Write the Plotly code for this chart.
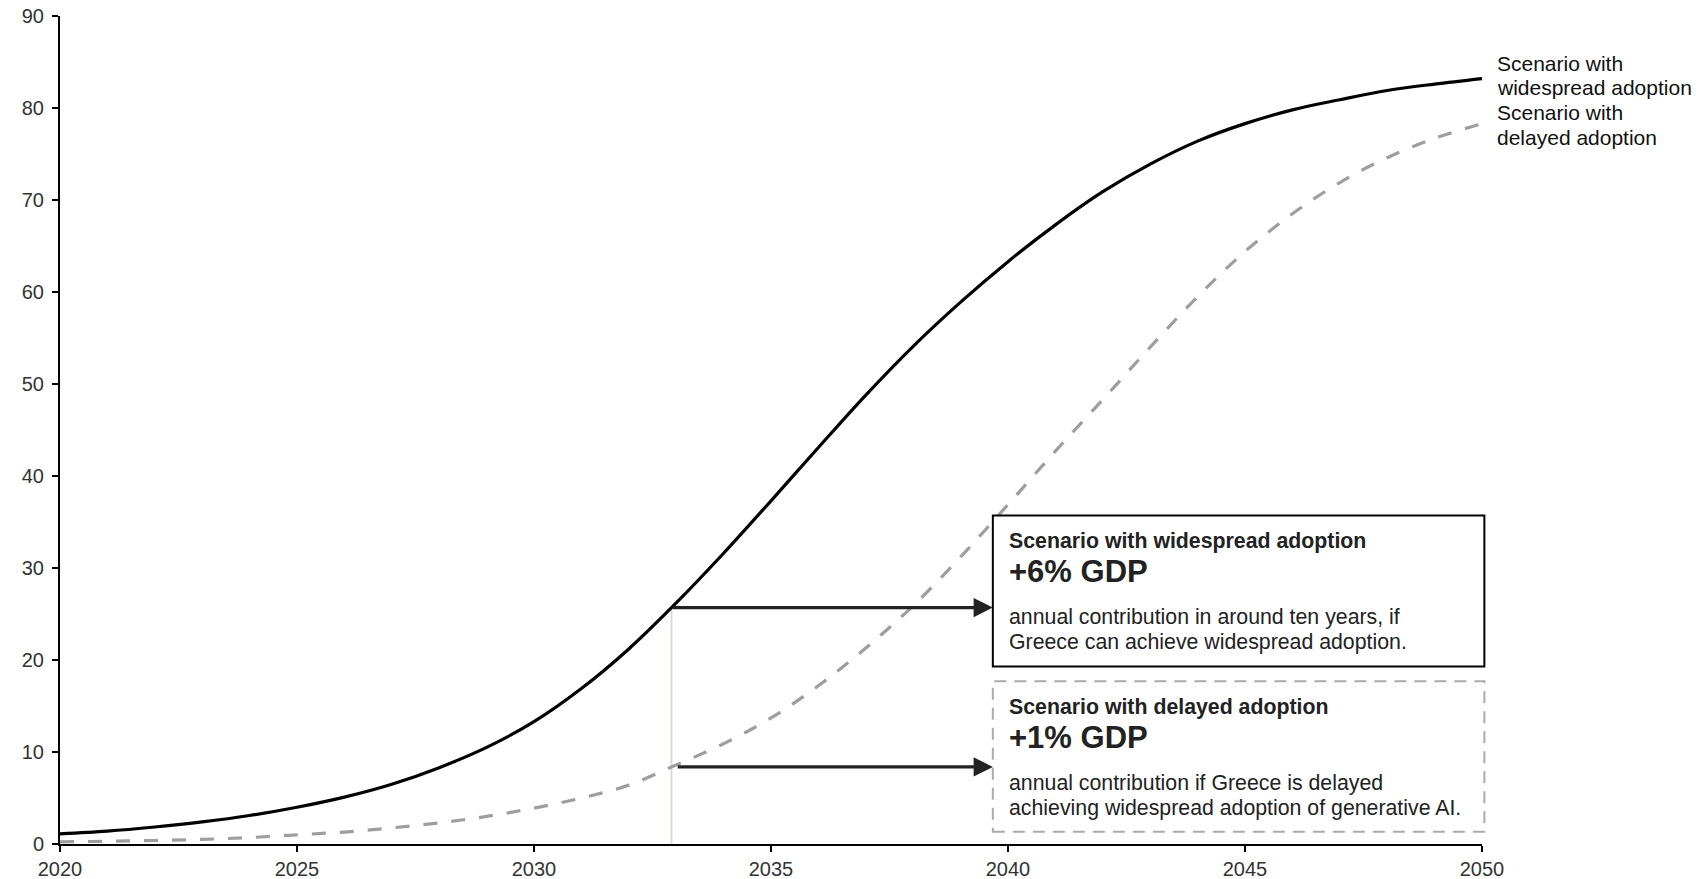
import numpy as np
import plotly.graph_objects as go

# Years on the horizontal axis
years = list(range(2020, 2051))

# Cumulative adoption paths (y-axis units), one value per year
widespread = [1.1, 1.4, 1.85, 2.4, 3.1, 4.0, 5.1, 6.5, 8.3, 10.5,
              13.3, 16.9, 21.2, 26.2, 31.6, 37.3, 43.1, 48.8, 54.1, 58.9,
              63.3, 67.3, 70.9, 73.9, 76.4, 78.3, 79.8, 80.9, 81.9, 82.6,
              83.2]
delayed = [0.24, 0.3, 0.38, 0.5, 0.7, 1.0, 1.3, 1.75, 2.3, 3.0,
           3.9, 5.0, 6.4, 8.6, 10.9, 13.7, 17.2, 21.3, 25.9, 31.2,
           36.9, 42.7, 48.3, 54.0, 59.5, 64.4, 68.5, 71.9, 74.6, 76.7,
           78.3]

x_ticks = [2020, 2025, 2030, 2035, 2040, 2045, 2050]
y_ticks = [0, 10, 20, 30, 40, 50, 60, 70, 80, 90]

series_names = ["Scenario with<br>widespread adoption", "Scenario with<br>delayed adoption"]

# Year at which the two scenarios are compared
marker_year = 2032.9

callouts = [
    {"title": "Scenario with widespread adoption", "value": "+6% GDP",
     "body": ["annual contribution in around ten years, if",
              "Greece can achieve widespread adoption."]},
    {"title": "Scenario with delayed adoption", "value": "+1% GDP",
     "body": ["annual contribution if Greece is delayed",
              "achieving widespread adoption of generative AI."]},
]

FONT = "Liberation Sans, Arial, Helvetica, sans-serif"
TEXT = "#222222"
GREY = "#9E9E9E"
X0, X1 = x_ticks[0], x_ticks[-1]


def to_domain(year):
    return (year - X0) / (X1 - X0)


fig = go.Figure()
fig.add_trace(go.Scatter(x=years, y=widespread, mode="lines", line_shape="spline",
                         line=dict(color="#000000", width=3.2), hoverinfo="skip"))
fig.add_trace(go.Scatter(x=years, y=delayed, mode="lines", line_shape="spline",
                         line=dict(color=GREY, width=3.2, dash="14px,14px"), hoverinfo="skip"))

y_wide = float(np.interp(marker_year, years, widespread))
y_del = float(np.interp(marker_year, years, delayed))

# Vertical guide at the comparison year
fig.add_shape(type="line", xref="x", yref="y", x0=marker_year, x1=marker_year,
              y0=0, y1=y_wide, line=dict(color="#DDD9D3", width=2), layer="below")

# Callout boxes; the right edge sits just past the last year
box_x0, box_x1 = 2039.68, 2050.05
boxes = [(19.3, 35.72, dict(color="#000000", width=2)),
         (1.33, 17.68, dict(color="#ABABAB", width=2, dash="12px,8px"))]
for y0, y1, ln in boxes:
    fig.add_shape(type="rect", xref="x domain", yref="y",
                  x0=to_domain(box_x0), x1=to_domain(box_x1), y0=y0, y1=y1,
                  line=ln, fillcolor="white", layer="above")

# Arrows from the curves to the boxes
for start_x, y in [(marker_year, y_wide), (marker_year + 0.1, y_del)]:
    fig.add_annotation(x=box_x0, y=y, ax=start_x, ay=y, xref="x", yref="y",
                       axref="x", ayref="y", text="", showarrow=True,
                       arrowhead=2, arrowsize=1.2, arrowwidth=3.2,
                       arrowcolor=TEXT, standoff=0, startstandoff=0)

# Text inside the boxes, one annotation per line
line_offsets = [26, 56, 101.5, 126.5]
for (y0, y1, _), c in zip(boxes, callouts):
    lines = [(c["title"], 21.3, True), (c["value"], 31, True),
             (c["body"][0], 21.3, False), (c["body"][1], 21.3, False)]
    for (txt, size, bold), off in zip(lines, line_offsets):
        fig.add_annotation(x=box_x0, y=y1, xref="x", yref="y", xanchor="left",
                           yanchor="middle", xshift=14, yshift=-off, showarrow=False,
                           text=f"<b>{txt}</b>" if bold else txt,
                           font=dict(family=FONT, size=size, color=TEXT))

# End-of-line labels
end_shifts = [(15, -9), (11, -14)]
for name, vals, shifts in zip(series_names, [widespread, delayed], end_shifts):
    for part, ys in zip(name.split("<br>"), shifts):
        fig.add_annotation(x=years[-1], y=vals[-1], xref="x", yref="y", xanchor="left",
                           yanchor="middle", xshift=13, yshift=ys, showarrow=False,
                           text=part, font=dict(family=FONT, size=21, color="#111111"))

axis_common = dict(showgrid=False, zeroline=False, showline=True, linecolor="#000000",
                   linewidth=2, ticks="outside", ticklen=6, tickwidth=2, tickcolor="#000000",
                   automargin=False,
                   tickfont=dict(family=FONT, size=20, color="#333333"))
fig.update_xaxes(range=[X0, X1], tickvals=x_ticks, **axis_common)
fig.update_yaxes(range=[0, 90], tickvals=y_ticks, ticklabelstandoff=4, **axis_common)

fig.update_layout(width=1698, height=879, showlegend=False,
                  margin=dict(l=60, r=216, t=16, b=35),
                  paper_bgcolor="white", plot_bgcolor="white",
                  font=dict(family=FONT))

fig.write_html("out.html")
